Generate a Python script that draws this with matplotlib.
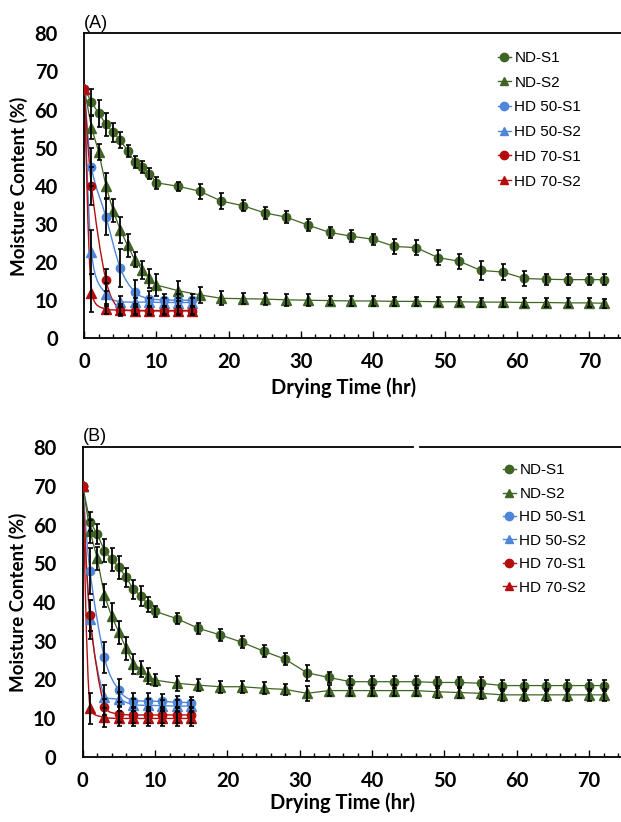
import numpy as np
import matplotlib
matplotlib.use("Agg")
import matplotlib.pyplot as plt
from matplotlib.path import Path
from matplotlib.patches import PathPatch
from matplotlib.lines import Line2D

# drying times (hr)
nd_time = [0, 1, 2, 3, 4, 5, 6, 7, 8, 9, 10, 13, 16, 19, 22, 25, 28, 31, 34, 37,
           40, 43, 46, 49, 52, 55, 58, 61, 64, 67, 70, 72]
hd_time = [0, 1, 3, 5, 7, 9, 11, 13, 15]

labels = ["ND-S1", "ND-S2", "HD 50-S1", "HD 50-S2", "HD 70-S1", "HD 70-S2"]

# ---- panel A : moisture content (%)
a_nd_s1 = [65.5, 62.0, 59.0, 56.2, 54.0, 52.0, 49.2, 46.3, 45.0, 43.2, 40.8, 39.9, 38.6, 36.0, 34.8, 32.9,
           31.8, 29.7, 27.8, 26.8, 26.0, 24.1, 23.8, 21.2, 20.2, 17.8, 17.4, 15.7, 15.5, 15.4, 15.4, 15.4]
a_nd_s2 = [65.5, 55.3, 48.9, 40.0, 33.5, 28.4, 24.4, 20.6, 17.9, 15.7, 14.0, 12.5, 11.4, 10.5, 10.4, 10.3,
           10.1, 10.0, 9.9, 9.8, 9.8, 9.7, 9.7, 9.6, 9.6, 9.5, 9.5, 9.4, 9.4, 9.3, 9.3, 9.2]
a_hd50_s1 = [65.5, 44.9, 31.9, 18.4, 12.2, 10.4, 10.1, 10.0, 10.0]
a_hd50_s2 = [65.5, 22.6, 11.6, 9.6, 9.5, 9.5, 9.4, 9.4, 9.4]
a_hd70_s1 = [65.5, 40.0, 15.3, 7.4, 7.3, 7.2, 7.2, 7.2, 7.2]
a_hd70_s2 = [65.5, 12.0, 7.6, 7.4, 7.3, 7.3, 7.3, 7.3, 7.3]

a_nd_s1_err = [0, 3.5, 3.5, 3.0, 2.5, 2.0, 1.5, 1.5, 1.5, 1.5, 1.5, 1.2, 2.0, 2.0, 1.5, 1.5,
               1.5, 1.5, 1.5, 1.5, 1.5, 2.0, 2.0, 2.0, 2.0, 2.5, 2.0, 2.0, 1.5, 1.5, 1.5, 1.5]
a_nd_s2_err = [0, 3.0, 2.0, 3.5, 3.0, 3.5, 3.0, 2.0, 2.4, 2.4, 2.8, 2.6, 2.0, 1.8, 1.5, 1.5,
               1.5, 1.5, 1.2, 1.2, 1.2, 1.2, 1.2, 1.2, 1.2, 1.2, 1.2, 1.2, 1.2, 1.2, 1.2, 1.2]
a_hd50_s1_err = [0, 5.0, 4.8, 5.0, 3.2, 2.0, 1.5, 1.5, 1.5]
a_hd50_s2_err = [0, 5.7, 3.0, 1.5, 1.2, 1.2, 1.2, 1.2, 1.2]
a_hd70_s1_err = [0, 5.0, 2.9, 1.5, 1.2, 1.2, 1.2, 1.2, 1.2]
a_hd70_s2_err = [0, 5.0, 1.3, 1.0, 1.0, 1.0, 1.0, 1.0, 1.0]

# ---- panel B
b_nd_s1 = [70.0, 60.8, 57.6, 53.3, 51.0, 49.0, 46.4, 43.3, 41.6, 39.4, 37.6, 35.7, 33.2, 31.5, 29.6, 27.3,
           25.2, 21.7, 20.5, 19.4, 19.4, 19.4, 19.4, 19.2, 19.2, 19.0, 18.4, 18.4, 18.4, 18.4, 18.4, 18.4]
b_nd_s2 = [70.0, 58.3, 51.3, 41.7, 36.3, 32.2, 28.0, 24.0, 22.7, 20.9, 19.8, 19.0, 18.5, 18.1, 18.1, 17.7,
           17.4, 16.4, 17.1, 17.1, 17.1, 17.1, 17.1, 16.8, 16.6, 16.4, 16.0, 16.0, 16.0, 16.0, 16.0, 16.0]
b_hd50_s1 = [70.0, 48.1, 25.7, 17.2, 14.5, 14.4, 14.3, 14.1, 14.0]
b_hd50_s2 = [70.0, 35.5, 15.5, 14.8, 13.4, 13.3, 13.2, 13.1, 13.1]
b_hd70_s1 = [70.0, 36.6, 12.9, 11.0, 10.8, 10.8, 10.8, 10.8, 10.8]
b_hd70_s2 = [70.0, 12.5, 10.2, 9.9, 9.9, 9.9, 9.9, 9.9, 9.9]

b_nd_s1_err = [0, 2.5, 2.5, 3.0, 3.0, 3.0, 2.5, 2.5, 2.5, 2.0, 1.5, 1.5, 1.5, 1.5, 1.5, 1.5,
               1.5, 2.0, 1.5, 1.5, 1.5, 1.5, 1.5, 1.5, 1.5, 1.5, 1.5, 1.5, 1.5, 1.5, 1.5, 1.5]
b_nd_s2_err = [0, 3.0, 3.0, 3.0, 3.5, 3.0, 3.0, 2.5, 2.0, 2.0, 1.5, 2.0, 1.5, 1.5, 1.5, 1.5,
               1.5, 2.0, 1.5, 1.5, 1.5, 1.5, 1.5, 1.5, 1.5, 1.5, 1.5, 1.5, 1.5, 1.5, 1.5, 1.5]
b_hd50_s1_err = [0, 6.0, 4.0, 3.0, 2.0, 2.0, 2.0, 1.5, 1.5]
b_hd50_s2_err = [0, 5.0, 3.0, 2.0, 1.5, 1.5, 1.5, 1.5, 1.5]
b_hd70_s1_err = [0, 4.0, 2.0, 2.0, 2.0, 2.0, 2.0, 2.0, 2.0]
b_hd70_s2_err = [0, 4.0, 2.5, 2.0, 2.0, 2.0, 2.0, 2.0, 2.0]

green = "#3f6424"
blue = "#4f86d9"
red = "#b40d0d"
colors = [green, green, blue, blue, red, red]
markers = ["o", "^", "o", "^", "o", "^"]

lab_font = "Lato"


def smooth_path(x, y):
    # excel-like smoothed line, control points kept inside each segment's y range
    pts = np.column_stack([x, y]).astype(float)
    n = len(pts)
    verts = [pts[0]]
    codes = [Path.MOVETO]
    for i in range(n - 1):
        p0 = pts[max(i - 1, 0)]
        p1 = pts[i]
        p2 = pts[i + 1]
        p3 = pts[min(i + 2, n - 1)]
        c1 = p1 + (p2 - p0) / 6.0
        c2 = p2 - (p3 - p1) / 6.0
        lo, hi = min(p1[1], p2[1]), max(p1[1], p2[1])
        c1[1] = np.clip(c1[1], lo, hi)
        c2[1] = np.clip(c2[1], lo, hi)
        verts += [c1, c2, p2]
        codes += [Path.CURVE4] * 3
    return Path(verts, codes)


def draw_panel(ax, series, errs, tag, leg_anchor, leg_space):
    times = [nd_time, nd_time, hd_time, hd_time, hd_time, hd_time]
    for k in range(6):
        x = np.array(times[k])
        y = np.array(series[k])
        e = np.array(errs[k])
        c = colors[k]
        if k < 2:
            ax.plot(x, y, "-", color=c, lw=0.9, zorder=2)
        else:
            ax.add_patch(PathPatch(smooth_path(x, y), fill=False, edgecolor=c, lw=1.0, zorder=2))
        ax.plot(x, y, linestyle="none", marker=markers[k], ms=6 if markers[k] == "o" else 6.5,
                color=c, mec=c, zorder=3 + k * 0.1)
        m = e > 0
        ax.errorbar(x[m], y[m], yerr=e[m], fmt="none", ecolor="black", elinewidth=1.3,
                    capsize=1.8, capthick=1.2, zorder=4)

    ax.set_xlim(0, 74.4)
    ax.set_ylim(0, 80)
    ax.set_yticks(range(0, 81, 10))
    ax.set_xticks(range(0, 71, 10))
    ax.set_xticks(range(0, 75, 2), minor=True)
    ax.tick_params(axis="y", length=0, pad=19)
    ax.tick_params(axis="x", which="major", direction="in", length=5, width=1.0, pad=10)
    ax.tick_params(axis="x", which="minor", direction="in", length=3, width=1.0)
    for t in ax.get_xticklabels() + ax.get_yticklabels():
        t.set_fontfamily(lab_font)
        t.set_fontweight("bold")
        t.set_fontsize(14.5)
    ax.spines["right"].set_visible(False)
    for s in ["left", "bottom", "top"]:
        ax.spines[s].set_linewidth(1.3)
    ax.set_xlabel("Drying Time (hr)", fontfamily=lab_font, fontweight="bold", fontsize=14.5)
    ax.set_ylabel("Moisture Content (%)", fontfamily=lab_font, fontweight="bold", fontsize=13.5)
    ax.yaxis.set_label_coords(-0.104, 0.5)
    ax.text(0.0, 1.006, tag, transform=ax.transAxes, fontsize=13,
            fontfamily="Liberation Sans", va="bottom", ha="left")

    handles = [Line2D([], [], color=colors[k], marker=markers[k], ms=6, lw=1.0) for k in range(6)]
    ax.legend(handles, labels, loc="upper left", bbox_to_anchor=leg_anchor, frameon=False,
              prop={"family": "Liberation Sans", "size": 11}, handlelength=0.9,
              handletextpad=0.2, labelspacing=leg_space, borderaxespad=0, borderpad=0)


fig = plt.figure(figsize=(6.21, 8.22), dpi=100)
ax1 = fig.add_axes([0.1357, 0.5884, 0.8643, 0.371])
ax2 = fig.add_axes([0.1332, 0.0794, 0.8668, 0.3764])

draw_panel(ax1, [a_nd_s1, a_nd_s2, a_hd50_s1, a_hd50_s2, a_hd70_s1, a_hd70_s2],
           [a_nd_s1_err, a_nd_s2_err, a_hd50_s1_err, a_hd50_s2_err, a_hd70_s1_err, a_hd70_s2_err],
           "(A)", (0.77, 0.942), 0.70)
draw_panel(ax2, [b_nd_s1, b_nd_s2, b_hd50_s1, b_hd50_s2, b_hd70_s1, b_hd70_s2],
           [b_nd_s1_err, b_nd_s2_err, b_hd50_s1_err, b_hd50_s2_err, b_hd70_s1_err, b_hd70_s2_err],
           "(B)", (0.78, 0.948), 0.62)
ax1.xaxis.set_label_coords(0.483, -0.128)
ax2.xaxis.set_label_coords(0.483, -0.114)

# panel B top border has a small break
ax2.spines["top"].set_visible(False)
ax2.plot([0, 45.6], [1, 1], color="black", lw=1.3, transform=ax2.get_xaxis_transform(), clip_on=False)
ax2.plot([46.6, 74.4], [1, 1], color="black", lw=1.3, transform=ax2.get_xaxis_transform(), clip_on=False)

fig.savefig("out.png", dpi=100)
